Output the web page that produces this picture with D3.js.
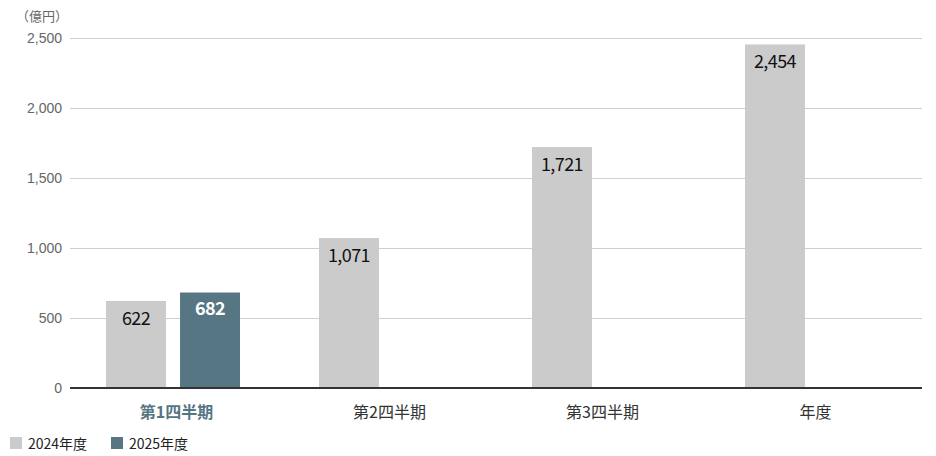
<!DOCTYPE html>
<html>
<head>
<meta charset="utf-8">
<script src="https://cdn.jsdelivr.net/npm/d3@7"></script>
<style>
  body { margin: 0; background: #fff; }
  svg { display: block; font-family: "Noto Sans CJK JP", "Noto Sans", sans-serif; }
</style>
</head>
<body>
<div id="chart"></div>
<script>
const categories = ['第1四半期', '第2四半期', '第3四半期', '年度'];
const seriesNames = ['2024年度', '2025年度'];
const values2024 = [622, 1071, 1721, 2454];
const values2025 = [682, null, null, null];
const yTicks = [0, 500, 1000, 1500, 2000, 2500];
const unitLabel = '（億円）';

const colors = {'2024年度': '#cbcbcb', '2025年度': '#567683'};
const width = 936;
const height = 456;
const margin = {left: 70, right: 14, top: 38, bottom: 68};

const svg = d3.select('#chart').append('svg')
    .attr('width', width)
    .attr('height', height);

const x = d3.scaleBand()
    .domain(categories)
    .range([margin.left, width - margin.right]);

// bars sit a little left of centre inside each group
const xInner = d3.scaleBand()
    .domain(seriesNames)
    .range([36, 170])
    .paddingInner(0.19);

const y = d3.scaleLinear()
    .domain([0, 2500])
    .range([height - margin.bottom, margin.top]);

// grid + tick labels
const yAxis = svg.append('g')
    .attr('transform', `translate(${margin.left},0)`)
    .call(d3.axisLeft(y).tickValues(yTicks).tickFormat(d3.format(',')).tickSize(-(width - margin.left - margin.right)).tickPadding(8));
yAxis.select('.domain').remove();
yAxis.selectAll('.tick line').attr('stroke', '#cfcfcf');
yAxis.selectAll('.tick text')
    .attr('fill', '#666')
    .style('font-size', '14px');

svg.append('text')
    .attr('x', 16)
    .attr('y', 21)
    .attr('fill', '#666')
    .style('font-size', '13px')
    .text(unitLabel);

const rows = categories.map((c, i) => ({
    category: c,
    bars: [
        {name: seriesNames[0], value: values2024[i]},
        {name: seriesNames[1], value: values2025[i]},
    ].filter(b => b.value != null)
}));

const groups = svg.append('g').selectAll('g')
    .data(rows)
    .join('g')
    .attr('transform', d => `translate(${x(d.category)},0)`);

groups.selectAll('rect')
    .data(d => d.bars)
    .join('rect')
    .attr('x', d => xInner(d.name))
    .attr('y', d => y(d.value))
    .attr('width', xInner.bandwidth())
    .attr('height', d => y(0) - y(d.value))
    .attr('fill', d => colors[d.name]);

groups.selectAll('text.value')
    .data(d => d.bars)
    .join('text')
    .attr('class', 'value')
    .attr('x', d => xInner(d.name) + xInner.bandwidth() / 2)
    .attr('y', d => y(d.value) + (d.name === seriesNames[1] ? 22 : 24))
    .attr('text-anchor', 'middle')
    .attr('fill', d => d.name === seriesNames[1] ? '#fff' : '#111')
    .style('font-size', '18px')
    .style('font-weight', d => d.name === seriesNames[1] ? 'bold' : 'normal')
    .style('letter-spacing', '-0.6px')
    .text(d => d3.format(',')(d.value));

// baseline
svg.append('line')
    .attr('x1', margin.left)
    .attr('x2', width - margin.right)
    .attr('y1', y(0))
    .attr('y2', y(0))
    .attr('stroke', '#333')
    .attr('stroke-width', 2);

// category labels
svg.append('g').selectAll('text')
    .data(categories)
    .join('text')
    .attr('x', d => x(d) + x.bandwidth() / 2)
    .attr('y', 418)
    .attr('text-anchor', 'middle')
    .attr('fill', (d, i) => i === 0 ? '#567683' : '#333')
    .style('font-size', '16px')
    .style('font-weight', (d, i) => i === 0 ? 'bold' : 'normal')
    .text(d => d);

// legend
const legend = svg.append('g').selectAll('g')
    .data(seriesNames)
    .join('g')
    .attr('transform', (d, i) => `translate(${10 + i * 101},437)`);
legend.append('rect')
    .attr('width', 12)
    .attr('height', 12)
    .attr('fill', d => colors[d]);
legend.append('text')
    .attr('x', 18)
    .attr('y', 11.5)
    .attr('fill', '#222')
    .style('font-size', '14px')
    .text(d => d);
</script>
</body>
</html>
